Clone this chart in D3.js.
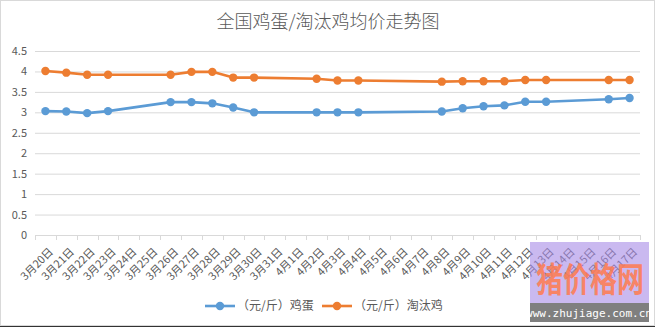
<!DOCTYPE html>
<html><head><meta charset="utf-8">
<script src="https://cdn.jsdelivr.net/npm/d3@7"></script>
<style>body{margin:0;background:#fff}svg{display:block}</style>
</head><body>
<svg id="c" width="655" height="327"></svg>
<script>
const categories = ["3月20日","3月21日","3月22日","3月23日","3月24日","3月25日","3月26日","3月27日","3月28日","3月29日","3月30日","3月31日","4月1日","4月2日","4月3日","4月4日","4月5日","4月6日","4月7日","4月8日","4月9日","4月10日","4月11日","4月12日","4月13日","4月14日","4月15日","4月16日","4月17日"];
const eggPrice = [3.03,3.02,2.98,3.03,null,null,3.25,3.25,3.22,3.12,3.0,null,null,3.0,3.0,3.0,null,null,null,3.02,3.1,3.15,3.17,3.26,3.26,null,null,3.32,3.35];
const henPrice = [4.01,3.97,3.92,3.92,null,null,3.92,3.99,3.99,3.85,3.85,null,null,3.82,3.78,3.78,null,null,null,3.75,3.76,3.76,3.76,3.79,3.79,null,null,3.79,3.79];
const yTicks = [0,0.5,1,1.5,2,2.5,3,3.5,4,4.5];
const seriesNames = ["（元/斤）鸡蛋","（元/斤）淘汰鸡"];
const colors = ["#5b9bd5","#ed7d31"];

const svg = d3.select("#c");
const font = "'Noto Sans CJK SC','Microsoft YaHei',sans-serif";
const x0 = 35, x1 = 640, yTop = 51, yBot = 235;
const x = d3.scaleBand().domain(categories).range([x0, x1]);
const y = d3.scaleLinear().domain([0, 4.5]).range([yBot, yTop]);

// border
svg.append("rect").attr("x",0.5).attr("y",0.5).attr("width",654).attr("height",325).attr("fill","none").attr("stroke","#d9d9d9");
svg.append("line").attr("x1",0).attr("x2",655).attr("y1",326.5).attr("y2",326.5).attr("stroke","#333");

// title
svg.append("text").attr("x",328).attr("y",28).attr("text-anchor","middle")
  .attr("font-family","'Noto Sans CJK SC',sans-serif").attr("font-weight",300).attr("font-size",18).attr("fill","#595959")
  .text("全国鸡蛋/淘汰鸡均价走势图");

// gridlines
const yAxis = d3.axisLeft(y).tickValues(yTicks).tickSize(-(x1 - x0)).tickFormat(d3.format("~g")).tickPadding(8);
const gy = svg.append("g").attr("transform", `translate(${x0},0)`).call(yAxis);
gy.select(".domain").remove();
gy.selectAll(".tick line").attr("stroke","#d9d9d9");
gy.selectAll(".tick text").attr("fill","#595959").attr("font-size",11).attr("font-family",font);

// x axis
const xAxis = d3.axisBottom(x).tickSize(0).tickFormat("");
const gx = svg.append("g").attr("transform", `translate(0,${yBot})`).call(xAxis);
gx.select(".domain").attr("stroke","#d9d9d9").attr("d", `M${x0},0.5H${x1}`);
const bounds = categories.map(c => x(c)).concat([x1]);
svg.append("g").selectAll("line").data(bounds).join("line")
  .attr("x1", d => Math.round(d)+0.5).attr("x2", d => Math.round(d)+0.5)
  .attr("y1", yBot).attr("y2", yBot + 5).attr("stroke","#d9d9d9");
svg.append("g").selectAll("text").data(categories).join("text")
  .attr("transform", d => `translate(${x(d) + x.bandwidth()/2 + 3},${yBot + 12}) rotate(-45)`)
  .attr("text-anchor","end").attr("dy","0.7em")
  .attr("font-size",11).attr("font-family",font).attr("fill","#595959")
  .text(d => d);

// lines
const allSeries = [eggPrice, henPrice];
allSeries.forEach((vals, si) => {
  const pts = categories.map((c, i) => ({c, v: vals[i]})).filter(p => p.v != null);
  const line = d3.line().x(p => x(p.c) + x.bandwidth()/2).y(p => y(p.v));
  svg.append("path").datum(pts).attr("d", line).attr("fill","none")
    .attr("stroke", colors[si]).attr("stroke-width",2.6).attr("stroke-linejoin","round");
  svg.append("g").selectAll("circle").data(pts).join("circle")
    .attr("cx", p => x(p.c) + x.bandwidth()/2).attr("cy", p => y(p.v)).attr("r",4.2)
    .attr("fill", colors[si]);
});

// legend
const legX = [205, 322];
seriesNames.forEach((n, i) => {
  const g = svg.append("g").attr("transform", `translate(${legX[i]},306)`);
  g.append("line").attr("x1",0).attr("x2",30).attr("stroke",colors[i]).attr("stroke-width",2.6);
  g.append("circle").attr("cx",15).attr("r",4.2).attr("fill",colors[i]);
  g.append("text").attr("x",32).attr("y",4).attr("font-size",12).attr("font-family",font).attr("fill","#595959").text(n);
});

// watermark
const wm = svg.append("g");
wm.append("rect").attr("x",530).attr("y",242).attr("width",119).attr("height",62).attr("fill","#a78be6").attr("opacity",0.6);
wm.append("text").attr("x",536).attr("y",292).attr("font-size",34).attr("font-weight",700)
  .attr("textLength",108).attr("lengthAdjust","spacingAndGlyphs")
  .attr("font-family","'Noto Sans CJK SC',sans-serif").attr("fill","#ff7b4f").attr("opacity",0.85).text("猪价格网");
wm.append("rect").attr("x",530).attr("y",303).attr("width",119).attr("height",19).attr("fill","#7f7f7f");
wm.append("text").attr("x",589).attr("y",317).attr("text-anchor","middle").attr("font-size",11)
  .attr("font-family","'DejaVu Sans Mono',monospace").attr("fill","#fff").text("www.zhujiage.com.cn");
</script>
</body></html>
